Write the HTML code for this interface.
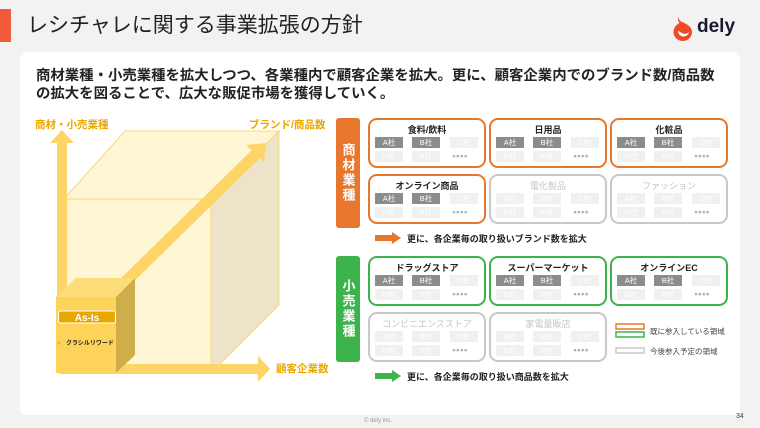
<!DOCTYPE html>
<html><head><meta charset="utf-8"><style>
*{margin:0;padding:0;box-sizing:border-box}
body{width:760px;height:428px;background:#f2f2f2;position:relative;overflow:hidden;font-family:"Liberation Sans","Noto Sans CJK JP",sans-serif;color:#222}
.a{position:absolute}
.card{left:20px;top:52px;width:720px;height:363px;background:#fff;border-radius:6px}
.box{position:absolute;width:118px;height:50px;border:2px solid #e8772e;border-radius:9px;background:#fff}
.box.g{border-color:#3cb44b}.box.n{border-color:#c8c8c8}
.box .t{position:absolute;left:0;right:0;top:3px;text-align:center;font-size:9px;font-weight:bold;color:#222}
.box.n .t{color:#c4c4c4;font-weight:normal}
.c{position:absolute;width:28px;height:11px;font-size:7.5px;line-height:11px;text-align:center;color:#fff;background:#f0f0f0}
.c.d{background:#8c8c8c}
.dots{position:absolute;font-size:6.5px;color:#b4b4b4;line-height:11px}
.lab{position:absolute;left:336px;width:24px;border-radius:3px;color:#fff;font-size:13px;font-weight:bold;text-align:center;line-height:17px;writing-mode:vertical-rl;display:flex;align-items:center;justify-content:center;letter-spacing:2px}
.ax{position:absolute;font-size:10.5px;font-weight:bold;color:#e8a800}
.note{position:absolute;font-size:9px;font-weight:bold;color:#222}
</style></head><body>
<div class="a" style="left:0;top:9px;width:11px;height:33px;background:#f15a3a"></div>
<div class="a" style="left:27px;top:9px;font-size:21px;color:#222">レシチャレに関する事業拡張の方針</div>
<svg class="a" style="left:672px;top:16px" width="22" height="26" viewBox="0 0 22 26"><path d="M11 25c-5.5 0-9.5-4-9.5-9 0-4 2.5-7 6-9C6 5 5.5 3 7 1c-.5 2.5 1 4 3 5C15 8 20 11 20 16c0 5-4 9-9 9z" fill="#ef4a23"/><path d="M6 15c0 3 2.5 5.5 5.5 5.5 3 0 5-2 5.5-4.5-2 2-5 2.5-7 1-1.5-1-2.5-1.5-4-2z" fill="#fff"/></svg>
<div class="a" style="left:697px;top:16px;font-size:19px;font-weight:bold;color:#1a1a2e">dely</div>
<div class="a card"></div>
<div class="a" style="left:36px;top:67px;font-size:14.4px;line-height:18px;font-weight:bold;color:#222;white-space:nowrap">商材業種・小売業種を拡大しつつ、各業種内で顧客企業を拡大。更に、顧客企業内でのブランド数/商品数<br>の拡大を図ることで、広大な販促市場を獲得していく。</div>

<svg class="a" style="left:0;top:0" width="340" height="428">
<polygon points="64,199 125,131 279,131 211,199" fill="#fff6d6" stroke="#fcd872" stroke-width="1"/>
<polygon points="211,199 279,131 279,305 211,373" fill="#ede3c8" stroke="#fcd872" stroke-width="1"/>
<rect x="64" y="199" width="147" height="174" fill="#fff6d6" stroke="#fcd872" stroke-width="1"/>
<rect x="57" y="143" width="10" height="230" fill="#fdd466"/>
<polygon points="50,143 62,130 74,143" fill="#fdd466"/>
<rect x="60" y="364" width="200" height="10" fill="#fdd466"/>
<polygon points="258,356 270,369 258,382" fill="#fdd466"/>
<polygon points="116,283 253,149 261,157 124,291" fill="#fdd466"/>
<polygon points="246,145 266,143 264,162" fill="#fdd466"/>
<polygon points="56,297 76,278 135,278 116,297" fill="#fddc7a"/>
<polygon points="116,297 135,278 135,355 116,373" fill="#cfae4a"/>
<rect x="56" y="297" width="60" height="76" fill="#fdd35a"/>
<rect x="58.5" y="311" width="57" height="12" rx="2" fill="#e8a800" stroke="#fff" stroke-width="1"/>
<text x="87" y="321" font-size="10" fill="#fff" text-anchor="middle" font-family="Liberation Sans" font-weight="bold">As-Is</text>
<text x="57" y="345" font-size="7" fill="#e8a800" font-weight="bold">«</text>
<text x="66" y="345" font-size="6" fill="#222" font-weight="bold" font-family="Noto Sans CJK JP">クラシルリワード</text>
</svg>
<div class="ax" style="left:35px;top:117px">商材・小売業種</div>
<div class="ax" style="left:249px;top:117px">ブランド/商品数</div>
<div class="ax" style="left:276px;top:361px">顧客企業数</div>

<div class="lab" style="top:118px;height:110px;background:#e8772e">商材業種</div>
<div class="lab" style="top:256px;height:106px;background:#3cb44b">小売業種</div>

<div class="box" style="left:368px;top:118px"><div class="t">食料/飲料</div><div class="c d" style="left:5px;top:17px">A社</div><div class="c d" style="left:42px;top:17px">B社</div><div class="c" style="left:80px;top:17px">C社</div><div class="c" style="left:5px;top:31px">D社</div><div class="c" style="left:42px;top:31px">E社</div><div class="dots" style="left:82px;top:31px">●●●●</div></div>
<div class="box" style="left:489px;top:118px"><div class="t">日用品</div><div class="c d" style="left:5px;top:17px">A社</div><div class="c d" style="left:42px;top:17px">B社</div><div class="c" style="left:80px;top:17px">C社</div><div class="c" style="left:5px;top:31px">D社</div><div class="c" style="left:42px;top:31px">E社</div><div class="dots" style="left:82px;top:31px">●●●●</div></div>
<div class="box" style="left:610px;top:118px"><div class="t">化粧品</div><div class="c d" style="left:5px;top:17px">A社</div><div class="c d" style="left:42px;top:17px">B社</div><div class="c" style="left:80px;top:17px">C社</div><div class="c" style="left:5px;top:31px">D社</div><div class="c" style="left:42px;top:31px">E社</div><div class="dots" style="left:82px;top:31px">●●●●</div></div>
<div class="box" style="left:368px;top:174px"><div class="t">オンライン商品</div><div class="c d" style="left:5px;top:17px">A社</div><div class="c d" style="left:42px;top:17px">B社</div><div class="c" style="left:80px;top:17px">C社</div><div class="c" style="left:5px;top:31px">D社</div><div class="c" style="left:42px;top:31px">E社</div><div class="dots" style="left:82px;top:31px">●●●●</div></div>
<div class="box n" style="left:489px;top:174px"><div class="t">電化製品</div><div class="c" style="left:5px;top:17px">A社</div><div class="c" style="left:42px;top:17px">B社</div><div class="c" style="left:80px;top:17px">C社</div><div class="c" style="left:5px;top:31px">D社</div><div class="c" style="left:42px;top:31px">E社</div><div class="dots" style="left:82px;top:31px">●●●●</div></div>
<div class="box n" style="left:610px;top:174px"><div class="t">ファッション</div><div class="c" style="left:5px;top:17px">A社</div><div class="c" style="left:42px;top:17px">B社</div><div class="c" style="left:80px;top:17px">C社</div><div class="c" style="left:5px;top:31px">D社</div><div class="c" style="left:42px;top:31px">E社</div><div class="dots" style="left:82px;top:31px">●●●●</div></div>

<svg class="a" style="left:375px;top:232px" width="28" height="12"><rect x="0" y="3" width="18" height="6" fill="#e8772e"/><polygon points="17,0 26,6 17,12" fill="#e8772e"/></svg>
<div class="note" style="left:407px;top:232px">更に、各企業毎の取り扱いブランド数を拡大</div>

<div class="box g" style="left:368px;top:256px"><div class="t">ドラッグストア</div><div class="c d" style="left:5px;top:17px">A社</div><div class="c d" style="left:42px;top:17px">B社</div><div class="c" style="left:80px;top:17px">C社</div><div class="c" style="left:5px;top:31px">D社</div><div class="c" style="left:42px;top:31px">E社</div><div class="dots" style="left:82px;top:31px">●●●●</div></div>
<div class="box g" style="left:489px;top:256px"><div class="t">スーパーマーケット</div><div class="c d" style="left:5px;top:17px">A社</div><div class="c d" style="left:42px;top:17px">B社</div><div class="c" style="left:80px;top:17px">C社</div><div class="c" style="left:5px;top:31px">D社</div><div class="c" style="left:42px;top:31px">E社</div><div class="dots" style="left:82px;top:31px">●●●●</div></div>
<div class="box g" style="left:610px;top:256px"><div class="t">オンラインEC</div><div class="c d" style="left:5px;top:17px">A社</div><div class="c d" style="left:42px;top:17px">B社</div><div class="c" style="left:80px;top:17px">C社</div><div class="c" style="left:5px;top:31px">D社</div><div class="c" style="left:42px;top:31px">E社</div><div class="dots" style="left:82px;top:31px">●●●●</div></div>
<div class="box n" style="left:368px;top:312px"><div class="t">コンビニエンスストア</div><div class="c" style="left:5px;top:17px">A社</div><div class="c" style="left:42px;top:17px">B社</div><div class="c" style="left:80px;top:17px">C社</div><div class="c" style="left:5px;top:31px">D社</div><div class="c" style="left:42px;top:31px">E社</div><div class="dots" style="left:82px;top:31px">●●●●</div></div>
<div class="box n" style="left:489px;top:312px"><div class="t">家電量販店</div><div class="c" style="left:5px;top:17px">A社</div><div class="c" style="left:42px;top:17px">B社</div><div class="c" style="left:80px;top:17px">C社</div><div class="c" style="left:5px;top:31px">D社</div><div class="c" style="left:42px;top:31px">E社</div><div class="dots" style="left:82px;top:31px">●●●●</div></div>

<svg class="a" style="left:615px;top:322px" width="32" height="34">
<rect x="1" y="2" width="28" height="5" fill="none" stroke="#e8772e" stroke-width="1.5"/>
<rect x="1" y="10" width="28" height="5" fill="none" stroke="#3cb44b" stroke-width="1.5"/>
<rect x="1" y="26" width="28" height="5" fill="none" stroke="#c8c8c8" stroke-width="1.5"/>
</svg>
<div class="a" style="left:650px;top:326px;font-size:7.5px;color:#444">既に参入している領域</div>
<div class="a" style="left:650px;top:346px;font-size:7.5px;color:#444">今後参入予定の領域</div>

<svg class="a" style="left:375px;top:370px" width="28" height="12"><rect x="0" y="3" width="18" height="6" fill="#3cb44b"/><polygon points="17,0 26,6 17,12" fill="#3cb44b"/></svg>
<div class="note" style="left:407px;top:370px">更に、各企業毎の取り扱い商品数を拡大</div>

<div class="a" style="left:364px;top:418px;font-size:6px;color:#999">© dely inc.</div>
<div class="a" style="left:736px;top:413px;font-size:7px;color:#444">34</div>
</body></html>
